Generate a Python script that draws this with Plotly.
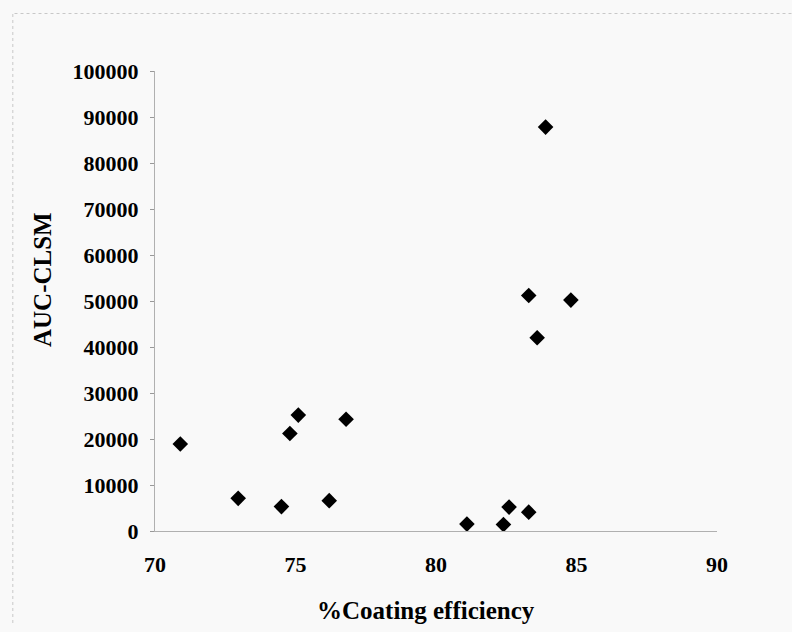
import plotly.graph_objects as go

coating_efficiency = [70.9, 72.96, 74.5, 74.8, 75.1, 76.2, 76.8, 81.1, 82.4, 82.6, 83.3, 83.3, 83.6, 83.9, 84.8]
auc_clsm = [18900, 7100, 5300, 21200, 25200, 6600, 24300, 1500, 1400, 5200, 4100, 51200, 42000, 87800, 50200]

x_ticks = [70, 75, 80, 85, 90]
y_ticks = list(range(0, 100001, 10000))

x_title = "%Coating efficiency"
y_title = "AUC-CLSM"

font_family = "Liberation Serif"

fig = go.Figure()
fig.add_trace(go.Scatter(
    x=coating_efficiency, y=auc_clsm, mode="markers",
    marker=dict(symbol="diamond", size=12, color="black"),
    showlegend=False,
))

fig.update_layout(
    width=792, height=632,
    margin=dict(l=155, r=75, t=71, b=101),
    paper_bgcolor="#f9f9f9", plot_bgcolor="#f9f9f9",
    font=dict(family=font_family, color="black"),
    xaxis=dict(
        range=[70, 90], tickvals=x_ticks, ticktext=[str(v) for v in x_ticks],
        showgrid=False, zeroline=False, showline=True, linecolor="#b0b0b0", linewidth=1,
        ticks="", ticklabelstandoff=14,
        tickfont=dict(size=22, family=font_family, weight="bold"),
    ),
    yaxis=dict(
        range=[0, 100000], tickvals=y_ticks, ticktext=[str(v) for v in y_ticks],
        showgrid=False, zeroline=False, showline=True, linecolor="#b0b0b0", linewidth=1,
        ticks="outside", ticklen=4, tickcolor="#999999", ticklabelstandoff=7,
        tickfont=dict(size=22, family=font_family, weight="bold"),
    ),
    annotations=[
        dict(text="<b>" + x_title + "</b>", xref="paper", yref="paper",
             x=(426 - 155) / (717 - 155), y=-(610 - 531) / (531 - 71),
             xanchor="center", yanchor="middle", showarrow=False,
             font=dict(size=25, family=font_family, color="black")),
        dict(text="<b>" + y_title + "</b>", xref="paper", yref="paper",
             x=-(155 - 42) / (717 - 155), y=(531 - 280) / (531 - 71),
             xanchor="center", yanchor="middle", textangle=-90, showarrow=False,
             font=dict(size=25, family=font_family, color="black")),
    ],
    shapes=[
        dict(type="line", xref="paper", yref="paper", x0=-0.25, x1=1.2, y0=1.125, y1=1.125,
             line=dict(color="#c8c8c8", width=1, dash="dot")),
        dict(type="line", xref="paper", yref="paper", x0=-0.253, x1=-0.253, y0=-0.2, y1=1.125,
             line=dict(color="#c8c8c8", width=1, dash="dot")),
    ],
)

fig.write_html("out.html")
